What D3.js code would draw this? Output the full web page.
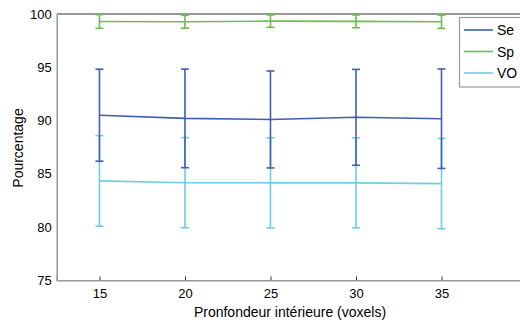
<!DOCTYPE html>
<html><head><meta charset="utf-8">
<script src="https://cdn.jsdelivr.net/npm/d3@7"></script>
<style>body{margin:0;background:#fff;overflow:hidden}svg{display:block;font-family:"Liberation Sans",Arial,sans-serif}</style>
</head><body>
<svg id="c" width="520" height="320"></svg>
<script>
const depths = [15, 20, 25, 30, 35];
const seMean = [90.5, 90.2, 90.1, 90.3, 90.17];
const seErr  = [4.32, 4.63, 4.55, 4.5, 4.67];
const spMean = [99.3, 99.27, 99.33, 99.31, 99.27];
const spErr  = [0.64, 0.6, 0.58, 0.6, 0.62];
const voMean = [84.33, 84.16, 84.15, 84.15, 84.08];
const voErr  = [4.25, 4.23, 4.23, 4.23, 4.24];
const xTicks = [15, 20, 25, 30, 35];
const yTicks = [75, 80, 85, 90, 95, 100];
const seriesNames = ["Se", "Sp", "VO"];
const colors = ["#3f5fb5", "#6cbf4a", "#6ccfe0"];

const svg = d3.select("#c");
const x = d3.scaleLinear().domain([12.5, 40]).range([56.7, 527]);
const y = d3.scaleLinear().domain([75, 100]).range([280.3, 14]);

// top border
svg.append("line").attr("x1", x(12.5)).attr("x2", 520).attr("y1", y(100)).attr("y2", y(100))
  .attr("stroke", "#333").attr("stroke-width", 1);

const series = [
  {name: seriesNames[0], mean: seMean, err: seErr, color: colors[0]},
  {name: seriesNames[1], mean: spMean, err: spErr, color: colors[1]},
  {name: seriesNames[2], mean: voMean, err: voErr, color: colors[2]}
];

const order = [2, 0, 1];
order.forEach(i => {
  const s = series[i];
  const g = svg.append("g");
  const pts = depths.map((d, j) => ({d, m: s.mean[j], e: s.err[j]}));
  g.append("path").datum(pts)
    .attr("d", d3.line().x(p => x(p.d)).y(p => y(p.m)))
    .attr("fill", "none").attr("stroke", s.color).attr("stroke-width", 1.6);
  pts.forEach(p => {
    g.append("line").attr("x1", x(p.d)).attr("x2", x(p.d)).attr("y1", y(p.m + p.e)).attr("y2", y(p.m - p.e))
      .attr("stroke", s.color).attr("stroke-width", 1.6);
    [p.m + p.e, p.m - p.e].forEach(v => {
      g.append("line").attr("x1", x(p.d) - 4).attr("x2", x(p.d) + 4).attr("y1", y(v)).attr("y2", y(v))
        .attr("stroke", s.color).attr("stroke-width", 1.6);
    });
  });
});

// axes
const xAxis = d3.axisBottom(x).tickValues(xTicks).tickSize(-4).tickPadding(8);
const gx = svg.append("g").attr("transform", `translate(0,${y(75)})`).call(xAxis);
gx.select(".domain").attr("stroke", "#999").attr("stroke-width", 1.5);
gx.selectAll(".tick line").attr("stroke", "#333");
gx.selectAll("text").attr("font-size", 13).attr("fill", "#000").attr("font-family", "Liberation Sans, Arial, sans-serif");

const yAxis = d3.axisLeft(y).tickValues(yTicks).tickSize(0).tickPadding(5);
const gy = svg.append("g").attr("transform", `translate(${x(12.5)},0)`).call(yAxis);
gy.select(".domain").attr("stroke", "#999").attr("stroke-width", 1.5);
gy.selectAll("text").attr("font-size", 13).attr("fill", "#000").attr("font-family", "Liberation Sans, Arial, sans-serif");

// labels
svg.append("text").attr("x", 290).attr("y", 317).attr("text-anchor", "middle")
  .attr("font-size", 14).text("Pronfondeur intérieure (voxels)");
svg.append("text").attr("transform", "translate(23,148) rotate(-90)").attr("text-anchor", "middle")
  .attr("font-size", 14).text("Pourcentage");

// legend
const lg = svg.append("g");
lg.append("rect").attr("x", 459.5).attr("y", 17.5).attr("width", 80).attr("height", 69.5)
  .attr("fill", "#fff").attr("stroke", "#999").attr("stroke-width", 1.2);
series.forEach((s, i) => {
  const ly = 30 + i * 21.5;
  lg.append("line").attr("x1", 464).attr("x2", 493).attr("y1", ly).attr("y2", ly)
    .attr("stroke", s.color).attr("stroke-width", 1.6);
  lg.append("text").attr("x", 497).attr("y", ly + 5).attr("font-size", 14).text(s.name);
});
</script>
</body></html>
